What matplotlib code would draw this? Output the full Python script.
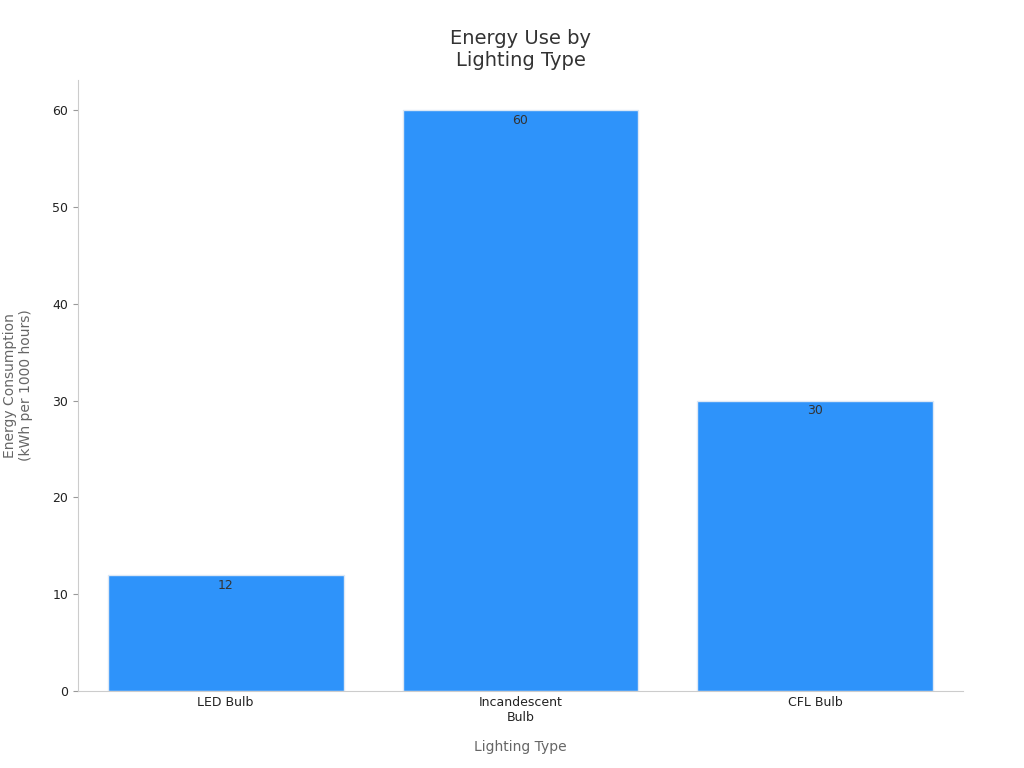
import matplotlib.pyplot as plt

categories = ["LED Bulb", "Incandescent\nBulb", "CFL Bulb"]
values = [12, 60, 30]

fig = plt.figure(figsize=(10.24, 7.68), dpi=100)
ax = fig.add_axes([0.0762, 0.1003, 0.8642, 0.7955])

bars = ax.bar(range(len(values)), values, width=0.8, color="#2E93FA",
              edgecolor="#dce8f5", linewidth=1)
for i, v in enumerate(values):
    ax.text(i, v - 0.4, str(v), ha="center", va="top", fontsize=9, color="#333333")

ax.set_xlim(-0.5, 2.5)
ax.set_ylim(0, 63.1)
ax.set_xticks(range(len(values)))
ax.set_xticklabels(categories, fontsize=9, color="#222222")
ax.set_yticks([0, 10, 20, 30, 40, 50, 60])
ax.tick_params(axis="y", labelsize=9, labelcolor="#222222", color="#999999")
ax.tick_params(axis="x", length=0)

for s in ["top", "right"]:
    ax.spines[s].set_visible(False)
for s in ["left", "bottom"]:
    ax.spines[s].set_color("#cccccc")

ax.set_xlabel("Lighting Type", fontsize=10, color="#666666", labelpad=12)
ax.set_ylabel("Energy Consumption\n(kWh per 1000 hours)", fontsize=10, color="#666666", labelpad=14)
ax.set_title("Energy Use by\nLighting Type", fontsize=14, color="#333333", pad=10)

fig.savefig("out.png", dpi=100)
